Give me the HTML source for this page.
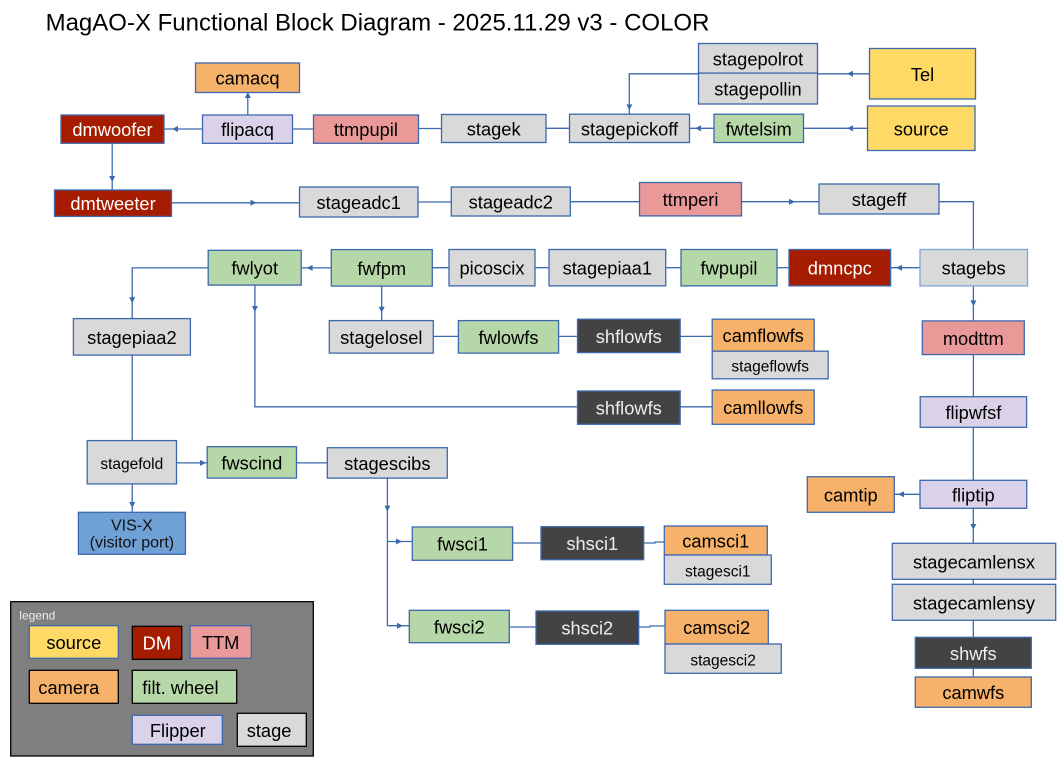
<!DOCTYPE html>
<html><head><meta charset="utf-8"><style>
html,body{margin:0;padding:0;background:#fff;}
svg{display:block;}
text{font-family:"Liberation Sans",Arial,sans-serif;}
</style></head><body>
<svg width="1058" height="768" viewBox="0 0 1058 768" xmlns="http://www.w3.org/2000/svg">
<rect width="1058" height="768" fill="#fff"/>
<text x="45.6" y="30.4" font-size="24" fill="#000">MagAO-X Functional Block Diagram - 2025.11.29 v3 - COLOR</text>

<!-- connectors -->
<g stroke="#3c69ae" stroke-width="1.3" fill="none">
<polyline points="869.5,73.8 629.3,73.8 629.3,114.2"/>
<line x1="867.5" y1="128.3" x2="803.4" y2="128.3"/>
<line x1="714" y1="128.3" x2="689.5" y2="128.3"/>
<line x1="569.5" y1="128.3" x2="546" y2="128.3"/>
<line x1="441.5" y1="128.5" x2="418.5" y2="128.5"/>
<line x1="313.5" y1="129" x2="292.5" y2="129"/>
<line x1="202.5" y1="129" x2="164" y2="129"/>
<line x1="247.8" y1="115" x2="247.8" y2="92.5"/>
<line x1="112.2" y1="143.3" x2="112.2" y2="190"/>
<line x1="171.5" y1="202.8" x2="299.5" y2="202.8"/>
<line x1="418" y1="202" x2="451.3" y2="202"/>
<line x1="570.4" y1="201.7" x2="639.5" y2="201.7"/>
<line x1="741.4" y1="201.7" x2="819" y2="201.7"/>
<polyline points="939,201.7 973.4,201.7 973.4,249.5"/>
<line x1="920" y1="267.7" x2="890.6" y2="267.7"/>
<line x1="789" y1="267.7" x2="777" y2="267.7"/>
<line x1="681" y1="267.7" x2="665.7" y2="267.7"/>
<line x1="549" y1="267.7" x2="535" y2="267.7"/>
<line x1="449" y1="267.7" x2="432.4" y2="267.7"/>
<line x1="331.3" y1="267.9" x2="301.2" y2="267.9"/>
<polyline points="208.2,267.9 132.2,267.9 132.2,318.6"/>
<line x1="132.2" y1="355.1" x2="132.2" y2="440.6"/>
<line x1="132.2" y1="483.9" x2="132.2" y2="512.3"/>
<line x1="176.5" y1="462.9" x2="207.2" y2="462.9"/>
<line x1="296.5" y1="462.9" x2="327.3" y2="462.9"/>
<line x1="387.4" y1="478.1" x2="387.4" y2="625.7"/>
<line x1="387.4" y1="541.5" x2="412.3" y2="541.5"/>
<line x1="387.4" y1="625.7" x2="409.3" y2="625.7"/>
<line x1="512.7" y1="543" x2="541" y2="543"/>
<polyline points="643.7,543 655,543 655,542 664.3,542"/>
<line x1="509.3" y1="627" x2="536" y2="627"/>
<polyline points="638.7,627 650,627 650,626 665,626"/>
<line x1="381.7" y1="286.1" x2="381.7" y2="320.6"/>
<line x1="433.4" y1="336.4" x2="458.4" y2="336.4"/>
<line x1="558.6" y1="336.4" x2="577.5" y2="336.4"/>
<line x1="680.2" y1="336.4" x2="712.2" y2="336.4"/>
<polyline points="577.5,406.8 254.9,406.8 254.9,285.1"/>
<line x1="680.2" y1="406.8" x2="712.2" y2="406.8"/>
<line x1="973.4" y1="285.9" x2="973.4" y2="320.9"/>
<line x1="973.4" y1="354.6" x2="973.4" y2="396.7"/>
<line x1="973.3" y1="427.3" x2="973.3" y2="480.3"/>
<line x1="920" y1="494.3" x2="894.3" y2="494.3"/>
<line x1="973.3" y1="508.3" x2="973.3" y2="543.3"/>
<line x1="973.3" y1="579.3" x2="973.3" y2="584.3"/>
<line x1="973.3" y1="620.3" x2="973.3" y2="637.3"/>
<line x1="973.3" y1="668.3" x2="973.3" y2="677"/>
</g>

<!-- arrowheads -->
<g fill="#3c69ae">
<polygon points="847,73.8 853,70.8 853,76.8"/>
<polygon points="847,128.3 853,125.3 853,131.3"/>
<polygon points="695,128.3 701,125.3 701,131.3"/>
<polygon points="172,129 178,126 178,132"/>
<polygon points="896,267.7 902,264.7 902,270.7"/>
<polygon points="306.6,267.9 312.6,264.9 312.6,270.9"/>
<polygon points="898,494.3 904,491.3 904,497.3"/>
<polygon points="256.5,202.8 250.5,199.8 250.5,205.8"/>
<polygon points="795,201.7 789,198.7 789,204.7"/>
<polygon points="206,462.9 200,459.9 200,465.9"/>
<polygon points="402,541.5 396,538.5 396,544.5"/>
<polygon points="403,625.7 397,622.7 397,628.7"/>
<polygon points="629.3,110.4 626.3,104.4 632.3,104.4"/>
<polygon points="112.2,182 109.2,176 115.2,176"/>
<polygon points="132.2,303.3 129.2,297.3 135.2,297.3"/>
<polygon points="132.2,508 129.2,502 135.2,502"/>
<polygon points="387.4,511.6 384.4,505.6 390.4,505.6"/>
<polygon points="381.7,312.8 378.7,306.8 384.7,306.8"/>
<polygon points="254.9,312 251.9,306 257.9,306"/>
<polygon points="973.4,306.4 970.4,300.4 976.4,300.4"/>
<polygon points="973.3,530 970.3,524 976.3,524"/>
<polygon points="247.8,92 244.8,98 250.8,98"/>
</g>

<!-- boxes -->
<g stroke="#3c69ae" stroke-width="1.3">
<rect x="195.5" y="63" width="104" height="29.5" fill="#f6b26b"/>
<rect x="202.5" y="115" width="90" height="28.3" fill="#d9d2e9"/>
<rect x="61" y="115" width="103" height="28.3" fill="#a61c00"/>
<rect x="313.5" y="115" width="105" height="28.3" fill="#ea9999"/>
<rect x="441.5" y="114.5" width="104.5" height="28" fill="#d9d9d9"/>
<rect x="569.5" y="114.2" width="120" height="28.3" fill="#d9d9d9"/>
<rect x="714" y="114.2" width="89.5" height="28.3" fill="#b6d7a8"/>
<rect x="867.5" y="106" width="107.5" height="44.5" fill="#ffd966"/>
<rect x="869.5" y="48.5" width="106" height="50.5" fill="#ffd966"/>
<rect x="698.5" y="43.5" width="119" height="29.6" fill="#d9d9d9"/>
<rect x="698.5" y="73.1" width="119" height="30.9" fill="#d9d9d9"/>
<rect x="54.5" y="190" width="117" height="26.4" fill="#a61c00"/>
<rect x="299.5" y="187" width="118.5" height="30" fill="#d9d9d9"/>
<rect x="451.3" y="187" width="119" height="29" fill="#d9d9d9"/>
<rect x="639.5" y="182.5" width="102" height="33.4" fill="#ea9999"/>
<rect x="819" y="184" width="120" height="30" fill="#d9d9d9"/>
<rect x="920" y="249.5" width="107.5" height="36.4" fill="#d9d9d9" stroke="#7ea4d8"/>
<rect x="789" y="249.5" width="101.6" height="36.4" fill="#a61c00"/>
<rect x="681" y="249.5" width="96" height="36.4" fill="#b6d7a8"/>
<rect x="549" y="249.5" width="116.7" height="36.4" fill="#d9d9d9"/>
<rect x="449" y="249.5" width="86" height="36.4" fill="#d9d9d9"/>
<rect x="331.3" y="249.6" width="101" height="36.5" fill="#b6d7a8"/>
<rect x="208.2" y="250.3" width="93" height="34.8" fill="#b6d7a8"/>
<rect x="73.4" y="318.6" width="117" height="36.5" fill="#d9d9d9"/>
<rect x="329.3" y="320.6" width="104" height="32.5" fill="#d9d9d9"/>
<rect x="458.4" y="320.6" width="100.2" height="32.5" fill="#b6d7a8"/>
<rect x="577.5" y="319.2" width="102.7" height="33.4" fill="#434343"/>
<rect x="712.2" y="319.2" width="102" height="32" fill="#f6b26b"/>
<rect x="712.2" y="351.2" width="116" height="27.6" fill="#d9d9d9"/>
<rect x="577.5" y="391" width="102.7" height="33.3" fill="#434343"/>
<rect x="712.2" y="390" width="102" height="34.3" fill="#f6b26b"/>
<rect x="922.3" y="320.9" width="102" height="33.7" fill="#ea9999"/>
<rect x="920.2" y="396.7" width="106.4" height="30.6" fill="#d9d2e9"/>
<rect x="920" y="480.3" width="106.7" height="28" fill="#d9d2e9"/>
<rect x="807.3" y="476.7" width="87" height="35.6" fill="#f6b26b"/>
<rect x="892.3" y="543.3" width="163.4" height="36" fill="#d9d9d9"/>
<rect x="892.3" y="584.3" width="163.4" height="36" fill="#d9d9d9"/>
<rect x="915.3" y="637.3" width="116" height="31" fill="#434343"/>
<rect x="915.3" y="677" width="116" height="30.3" fill="#f6b26b"/>
<rect x="87.2" y="440.6" width="89.3" height="43.3" fill="#d9d9d9"/>
<rect x="207.2" y="446.7" width="89.3" height="31.4" fill="#b6d7a8"/>
<rect x="327.3" y="447.7" width="120" height="30.4" fill="#d9d9d9"/>
<rect x="78.4" y="512.3" width="107" height="42" fill="#6fa0d6"/>
<rect x="412.3" y="527" width="100.3" height="33.3" fill="#b6d7a8"/>
<rect x="541" y="526.7" width="102.7" height="33" fill="#434343"/>
<rect x="664.3" y="526" width="103" height="29" fill="#f6b26b"/>
<rect x="664.3" y="555" width="107" height="29.3" fill="#d9d9d9"/>
<rect x="409.3" y="610.3" width="100" height="32.4" fill="#b6d7a8"/>
<rect x="536" y="611" width="102.7" height="33.3" fill="#434343"/>
<rect x="665" y="610.3" width="103.3" height="33.7" fill="#f6b26b"/>
<rect x="665" y="644" width="116.3" height="29.3" fill="#d9d9d9"/>
</g>

<!-- labels -->
<g font-size="18.3" fill="#000" text-anchor="middle">
<text x="247.5" y="84.7">camacq</text>
<text x="247.5" y="136.2">flipacq</text>
<text x="365.9" y="136.2">ttmpupil</text>
<text x="493.7" y="135.5">stagek</text>
<text x="629.5" y="135.4">stagepickoff</text>
<text x="758.7" y="135.4">fwtelsim</text>
<text x="921.2" y="135.3">source</text>
<text x="922.5" y="81">Tel</text>
<text x="758" y="65.3">stagepolrot</text>
<text x="758" y="95.5">stagepollin</text>
<text x="358.7" y="209">stageadc1</text>
<text x="510.8" y="208.5">stageadc2</text>
<text x="690.5" y="206.2">ttmperi</text>
<text x="879" y="206">stageff</text>
<text x="973.7" y="274.7">stagebs</text>
<text x="729" y="274.7">fwpupil</text>
<text x="607.3" y="274.7">stagepiaa1</text>
<text x="492" y="274.7">picoscix</text>
<text x="381.8" y="274.8">fwfpm</text>
<text x="254.7" y="274.7">fwlyot</text>
<text x="131.9" y="343.8">stagepiaa2</text>
<text x="381.3" y="343.8">stagelosel</text>
<text x="508.5" y="343.8">fwlowfs</text>
<text x="763.2" y="342.2">camflowfs</text>
<text x="763.2" y="414.2">camllowfs</text>
<text x="973.3" y="344.8">modttm</text>
<text x="973.4" y="419">flipwfsf</text>
<text x="973.3" y="501.3">fliptip</text>
<text x="850.8" y="501.5">camtip</text>
<text x="974" y="568.3">stagecamlensx</text>
<text x="974" y="609.3">stagecamlensy</text>
<text x="973.3" y="699.2">camwfs</text>
<text x="251.8" y="469.4">fwscind</text>
<text x="387.3" y="469.9">stagescibs</text>
<text x="462.5" y="550.7">fwsci1</text>
<text x="715.8" y="547.5">camsci1</text>
<text x="459.3" y="633.5">fwsci2</text>
<text x="716.6" y="634.2">camsci2</text>
</g>
<g font-size="18.3" fill="#fff" text-anchor="middle">
<text x="112.5" y="136.2">dmwoofer</text>
<text x="113" y="210.2">dmtweeter</text>
<text x="839.8" y="274.7">dmncpc</text>
</g>
<g font-size="18.3" fill="#eeeeee" text-anchor="middle">
<text x="628.8" y="342.9">shflowfs</text>
<text x="628.8" y="414.7">shflowfs</text>
<text x="973.3" y="659.8">shwfs</text>
<text x="592.3" y="550.2">shsci1</text>
<text x="587.3" y="634.7">shsci2</text>
</g>
<g font-size="15.5" fill="#000" text-anchor="middle">
<text x="131.8" y="469">stagefold</text>
<text x="770.2" y="371.4">stageflowfs</text>
<text x="717.8" y="576.7">stagesci1</text>
<text x="723.1" y="665.7">stagesci2</text>
</g>
<g font-size="16" fill="#111" text-anchor="middle">
<text x="131.9" y="530.5">VIS-X</text>
<text x="131.9" y="547.5">(visitor port)</text>
</g>

<!-- legend -->
<rect x="10.7" y="601.7" width="302.6" height="154.3" fill="#7f7f7f" stroke="#000" stroke-width="1.3"/>
<text x="19.3" y="619.3" font-size="12" fill="#eeeeee">legend</text>
<g stroke-width="1.3">
<rect x="29.3" y="625.7" width="89" height="32.6" fill="#ffd966" stroke="#3c69ae"/>
<rect x="132.3" y="626.3" width="49.4" height="33" fill="#a61c00" stroke="#000"/>
<rect x="190" y="625.7" width="61.3" height="32.6" fill="#ea9999" stroke="#3c69ae"/>
<rect x="29.3" y="670.3" width="89" height="33" fill="#f6b26b" stroke="#000"/>
<rect x="132.3" y="670.3" width="104.4" height="33" fill="#b6d7a8" stroke="#000"/>
<rect x="132.3" y="715.3" width="90" height="29" fill="#d9d2e9" stroke="#3c69ae"/>
<rect x="237.3" y="713.3" width="69" height="33" fill="#d9d9d9" stroke="#000"/>
</g>
<g font-size="18.3" fill="#000">
<text x="73.8" y="649" text-anchor="middle">source</text>
<text x="156.9" y="649.5" text-anchor="middle" fill="#fff">DM</text>
<text x="220.6" y="649" text-anchor="middle">TTM</text>
<text x="38.3" y="694">camera</text>
<text x="142.3" y="694">filt. wheel</text>
<text x="177.8" y="737" text-anchor="middle">Flipper</text>
<text x="246.7" y="737">stage</text>
</g>
</svg>
</body></html>
